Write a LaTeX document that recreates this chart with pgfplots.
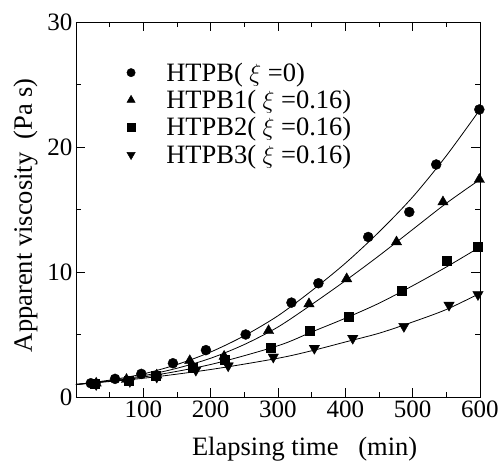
\documentclass[border=0pt]{standalone}
\usepackage{fontspec}
\setmainfont{Liberation Serif}
\usepackage{pgfplots}
\pgfplotsset{compat=1.18}
\begin{document}
\begin{tikzpicture}
\begin{axis}[
  scale only axis, width=404pt, height=375pt,
  at={(0,0)}, anchor=south west,
  xmin=0, xmax=600, ymin=0, ymax=30,
  xtick={100,200,...,600}, minor xtick={50,150,...,550},
  ytick={0,10,20,30}, minor ytick={5,15,25},
  tick align=inside, major tick length=9pt, minor tick length=5pt,
  tick style={black, line width=0.8pt},
  axis line style={line width=0.9pt},
  ticklabel style={font=\fontsize{25}{27}\selectfont},
  /pgf/number format/assume math mode=true,
  xlabel={Elapsing time \ \ (min)},
  ylabel={Apparent viscosity \ (Pa s)},
  label style={font=\fontsize{26.5}{28}\selectfont},
  xlabel style={at={(axis description cs:0.566,0)}, anchor=base, yshift=-59pt},
  ylabel style={at={(axis description cs:-0.109,0.485)}, anchor=base},
  legend style={draw=none, fill=none, at={(0.118,0.9)}, anchor=north west,
    font=\fontsize{26.5}{28}\selectfont, row sep=5.5pt, column sep=30pt,
    nodes={inner sep=1pt}},
  legend cell align=left,
]
% fitted curves
\addplot[smooth, line width=0.8pt, forget plot] coordinates {
  (0,1.0) (50,1.35) (100,1.85) (150,2.6) (200,3.6) (250,4.9) (300,6.5)
  (350,8.5) (400,10.7) (450,13.2) (500,16.0) (550,19.3) (600,23.0)};
\addplot[smooth, line width=0.8pt, forget plot] coordinates {
  (0,1.0) (50,1.3) (100,1.7) (150,2.3) (200,3.1) (250,4.2) (300,5.6)
  (350,7.4) (400,9.3) (450,11.3) (500,13.4) (550,15.5) (600,17.4)};
\addplot[smooth, line width=0.8pt, forget plot] coordinates {
  (0,1.0) (100,1.6) (200,2.6) (300,4.1) (350,5.2) (400,6.3) (450,7.5)
  (500,8.9) (550,10.4) (600,12.0)};
\addplot[smooth, line width=0.8pt, forget plot] coordinates {
  (0,1.0) (100,1.5) (200,2.2) (300,3.1) (350,3.7) (400,4.4) (450,5.1)
  (500,6.0) (550,7.0) (600,8.3)};
% measured points
\addplot[only marks, mark=*, mark size=5pt, black,
  legend image post style={mark size=4.2pt}] coordinates {
  (22,1.1) (58,1.45) (97,1.85) (144,2.7) (193,3.75) (252,5.0) (320,7.55)
  (360,9.1) (434,12.8) (495,14.8) (535,18.6) (599,23.0)};
\addplot[only marks, mark=triangle*, mark size=6pt, black,
  legend image post style={mark size=4.8pt}] coordinates {
  (30,1.1) (75,1.4) (120,1.75) (169,2.9) (220,3.25) (286,5.3) (346,7.45)
  (402,9.45) (476,12.4) (545,15.6) (599,17.4)};
\addplot[only marks, mark=square*, mark size=4.5pt, black,
  legend image post style={mark size=4.2pt}] coordinates {
  (28,1.05) (78,1.3) (118,1.7) (173,2.35) (221,3.0) (289,3.95) (347,5.33)
  (405,6.4) (484,8.5) (550,10.9) (597,12.0)};
\addplot[only marks, mark=triangle*, mark size=6pt, mark options={rotate=180}, black,
  legend image post style={mark size=4.8pt}] coordinates {
  (30,1.0) (80,1.25) (120,1.6) (178,2.15) (226,2.5) (293,3.2) (354,3.9)
  (411,4.7) (487,5.65) (554,7.35) (597,8.2)};
\legend{HTPB( $\xi$ =0), HTPB1( $\xi$ =0.16), HTPB2( $\xi$ =0.16), HTPB3( $\xi$ =0.16)}
\end{axis}
\pgfresetboundingbox
\path (-76pt,-68pt) rectangle (425pt,397pt);
\end{tikzpicture}
\end{document}
